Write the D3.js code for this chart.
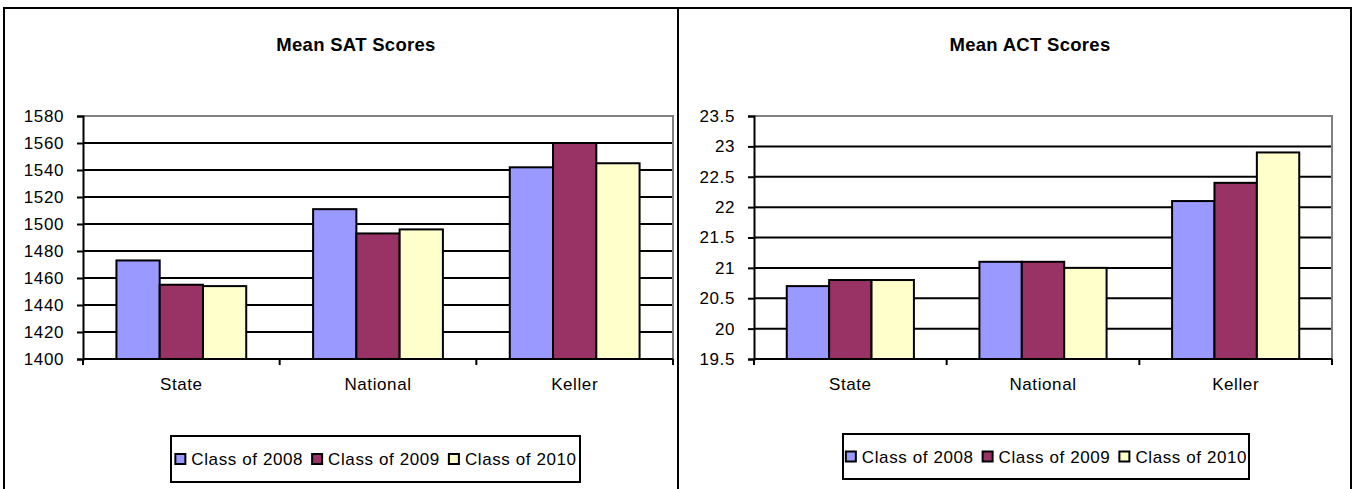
<!DOCTYPE html>
<html>
<head>
<meta charset="utf-8">
<script src="https://cdn.jsdelivr.net/npm/d3@7"></script>
<style>
  html, body { margin: 0; padding: 0; background: #fff; }
  svg { display: block; }
  text { font-family: "Liberation Sans", Arial, sans-serif; fill: #000; }
</style>
</head>
<body>
<svg id="chart" width="1355" height="489"></svg>
<script>
// ---- Data ----
const categories = ["State", "National", "Keller"];
const seriesNames = ["Class of 2008", "Class of 2009", "Class of 2010"];
const seriesColors = ["#9999FF", "#993366", "#FFFFCC"];

const satClass2008 = [1473, 1511, 1542];
const satClass2009 = [1455, 1493, 1560];
const satClass2010 = [1454, 1496, 1545];
const satTicks = [1400, 1420, 1440, 1460, 1480, 1500, 1520, 1540, 1560, 1580];

const actClass2008 = [20.7, 21.1, 22.1];
const actClass2009 = [20.8, 21.1, 22.4];
const actClass2010 = [20.8, 21.0, 22.9];
const actTicks = [19.5, 20, 20.5, 21, 21.5, 22, 22.5, 23, 23.5];

const svg = d3.select("#chart");

function drawPanel(cfg) {
  const g = svg.append("g");
  // panel border
  g.append("rect")
    .attr("x", cfg.panel[0]).attr("y", 8)
    .attr("width", cfg.panel[1] - cfg.panel[0]).attr("height", 520)
    .attr("fill", "#fff").attr("stroke", "#000").attr("stroke-width", 2);

  // title
  g.append("text")
    .attr("x", cfg.titleX).attr("y", 51)
    .attr("text-anchor", "middle")
    .style("font-size", "18.5px").style("font-weight", "bold")
    .style("letter-spacing", "0.3px")
    .text(cfg.title);

  const x = d3.scaleBand().domain(categories).range([cfg.left, cfg.right]).padding(0);
  const pad = 0.34 * x.step() / 2;
  const xs = d3.scaleBand().domain(seriesNames).range([pad, x.step() - pad]).padding(0);
  const y = d3.scaleLinear().domain([cfg.ticks[0], cfg.ticks[cfg.ticks.length - 1]]).range([cfg.bottom, cfg.top]);

  // gridlines
  g.append("g").selectAll("line").data(cfg.ticks.slice(1, -1)).join("line")
    .attr("x1", cfg.left).attr("x2", cfg.right)
    .attr("y1", d => y(d)).attr("y2", d => y(d))
    .attr("stroke", "#000").attr("stroke-width", 2);

  // plot area border top/right (grey)
  g.append("path")
    .attr("d", `M${cfg.left},${cfg.top}H${cfg.right}V${cfg.bottom}`)
    .attr("fill", "none").attr("stroke", "#808080").attr("stroke-width", 2);

  // bars
  const series = [cfg.s1, cfg.s2, cfg.s3];
  series.forEach((vals, si) => {
    g.append("g").selectAll("rect").data(vals).join("rect")
      .attr("x", (d, i) => x(categories[i]) + xs(seriesNames[si]))
      .attr("y", d => y(d))
      .attr("width", xs.bandwidth())
      .attr("height", d => cfg.bottom - y(d))
      .attr("fill", seriesColors[si])
      .attr("stroke", "#000").attr("stroke-width", 2);
  });

  // y axis
  const yAxis = d3.axisLeft(y).tickValues(cfg.ticks).tickSize(6).tickPadding(13)
    .tickFormat(d => String(d));
  const ya = g.append("g").attr("transform", `translate(${cfg.left},0)`).call(yAxis);
  ya.select(".domain").attr("stroke", "#000").attr("stroke-width", 2);
  ya.selectAll(".tick line").attr("stroke", "#000").attr("stroke-width", 2);
  ya.selectAll(".tick text").style("font-size", "17px").style("font-family", "Liberation Sans, Arial, sans-serif")
    .style("letter-spacing", "0.6px").attr("fill", "#000");

  // x axis
  const xa = g.append("g").attr("transform", `translate(0,${cfg.bottom})`);
  xa.append("line").attr("x1", cfg.left).attr("x2", cfg.right)
    .attr("y1", 0).attr("y2", 0).attr("stroke", "#000").attr("stroke-width", 2);
  const bounds = categories.map(c => x(c)).concat([cfg.right]);
  xa.selectAll("line.tk").data(bounds).join("line").attr("class", "tk")
    .attr("x1", d => d).attr("x2", d => d).attr("y1", 0).attr("y2", 6)
    .attr("stroke", "#000").attr("stroke-width", 2);
  xa.selectAll("text").data(categories).join("text")
    .attr("x", d => x(d) + x.bandwidth() / 2).attr("y", 31)
    .attr("text-anchor", "middle")
    .style("font-size", "17px").style("letter-spacing", "0.6px")
    .text(d => d);

  // legend
  const lg = g.append("g");
  lg.append("rect")
    .attr("x", cfg.legend[0]).attr("y", cfg.legend[2])
    .attr("width", cfg.legend[1] - cfg.legend[0]).attr("height", cfg.legend[3] - cfg.legend[2])
    .attr("fill", "#fff").attr("stroke", "#000").attr("stroke-width", 2);
  const cy = (cfg.legend[2] + cfg.legend[3]) / 2;
  const items = lg.selectAll("g.item").data(seriesNames).join("g").attr("class", "item");
  items.append("rect").attr("width", 10).attr("height", 10)
    .attr("y", cy - 5)
    .attr("fill", (d, i) => seriesColors[i]).attr("stroke", "#000").attr("stroke-width", 2);
  items.append("text").attr("y", cy + 6)
    .style("font-size", "17px").style("letter-spacing", "0.6px")
    .text(d => d);
  // layout items
  let widths = [];
  items.each(function () {
    widths.push(d3.select(this).select("text").node().getComputedTextLength());
  });
  const gap = 8, markerW = 12, mGap = 5;
  const total = d3.sum(widths) + widths.length * (markerW + mGap) + gap * (widths.length - 1);
  let cx = (cfg.legend[0] + cfg.legend[1]) / 2 - total / 2;
  items.each(function (d, i) {
    const it = d3.select(this);
    it.select("rect").attr("x", cx + 1);
    it.select("text").attr("x", cx + markerW + mGap);
    cx += markerW + mGap + widths[i] + gap;
  });
}

drawPanel({
  panel: [4, 678], title: "Mean SAT Scores", titleX: 356,
  left: 83, right: 673, top: 116, bottom: 359,
  ticks: satTicks, s1: satClass2008, s2: satClass2009, s3: satClass2010,
  legend: [171, 580, 436, 482]
});
drawPanel({
  panel: [678, 1351], title: "Mean ACT Scores", titleX: 1030,
  left: 754, right: 1332, top: 116, bottom: 359,
  ticks: actTicks, s1: actClass2008, s2: actClass2009, s3: actClass2010,
  legend: [843, 1249, 434, 479]
});
</script>
</body>
</html>
